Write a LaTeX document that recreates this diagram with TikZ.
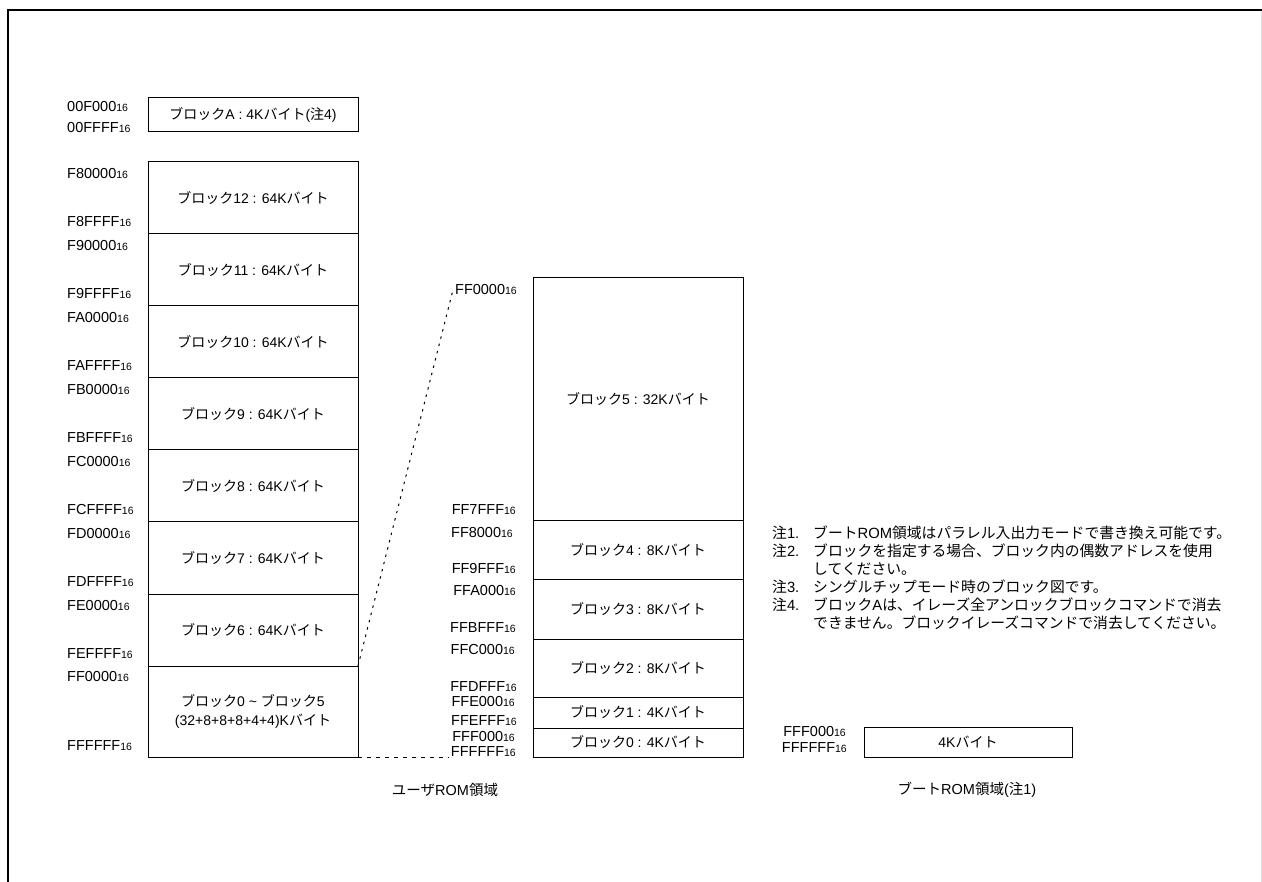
\documentclass[tikz,border=0pt]{standalone}
\usepackage{fontspec}
\setmainfont{Liberation Sans}
\newfontfamily\jp{Noto Sans CJK JP}
\usetikzlibrary{positioning}

\newcommand{\bk}{{\jp ブロック}}
\newcommand{\kb}{{\jp バイト}}
\newcommand{\hx}[1]{#1{\fontsize{10.5}{10.5}\selectfont 16}}

\tikzset{
    blk/.style={draw, line width=1pt, minimum width=210pt, inner sep=0pt, outer sep=0pt, font=\fontsize{14}{17}\selectfont},
    adr/.style={inner sep=2pt, font=\fontsize{14.5}{17}\selectfont},
    slantdash/.style={line width=1pt, dash pattern=on 2.5pt off 5pt},
    flatdash/.style={line width=1pt, dash pattern=on 4pt off 5pt},
}

\begin{document}
\begin{tikzpicture}[x=1pt, y=-1pt]
    \useasboundingbox (0,0) rectangle (1262,882);
    \draw[line width=2pt] (1262,10) -- (8,10) -- (8,882);
    \draw[black!12, line width=1pt] (1261,11) -- (1261,882);

    % user ROM
    \node[blk, minimum height=34pt] (ua) at (253,115) {\bk A : 4K\kb({\jp 注}4)};
    \node[blk, minimum height=72pt] (u12) at (253,198) {\bk12 : 64K\kb};
    \node[blk, minimum height=72pt, below=0pt of u12] (u11) {\bk11 : 64K\kb};
    \node[blk, minimum height=72pt, below=0pt of u11] (u10) {\bk10 : 64K\kb};
    \node[blk, minimum height=72pt, below=0pt of u10] (u9) {\bk9 : 64K\kb};
    \node[blk, minimum height=72pt, below=0pt of u9] (u8) {\bk8 : 64K\kb};
    \node[blk, minimum height=72pt, below=0pt of u8] (u7) {\bk7 : 64K\kb};
    \node[blk, minimum height=72pt, below=0pt of u7] (u6) {\bk6 : 64K\kb};
    \node[blk, minimum height=91pt, below=0pt of u6, align=center, font=\fontsize{14}{19}\selectfont] (u05)
        {\bk0 \textasciitilde{} \bk5\\(32+8+8+8+4+4)K\kb};

    \node[adr, anchor=west] (a00f000) at (65,107) {\hx{00F000}};
    \node[adr, anchor=west] (a00ffff) at (65,128) {\hx{00FFFF}};
    \node[adr, anchor=west] (af80000) at (65,174) {\hx{F80000}};
    \node[adr, anchor=west] (af8ffff) at (65,222) {\hx{F8FFFF}};
    \node[adr, anchor=west] (af90000) at (65,246) {\hx{F90000}};
    \node[adr, anchor=west] (af9ffff) at (65,294) {\hx{F9FFFF}};
    \node[adr, anchor=west] (afa0000) at (65,318) {\hx{FA0000}};
    \node[adr, anchor=west] (afaffff) at (65,366) {\hx{FAFFFF}};
    \node[adr, anchor=west] (afb0000) at (65,390) {\hx{FB0000}};
    \node[adr, anchor=west] (afbffff) at (65,438) {\hx{FBFFFF}};
    \node[adr, anchor=west] (afc0000) at (65,462) {\hx{FC0000}};
    \node[adr, anchor=west] (afcffff) at (65,510) {\hx{FCFFFF}};
    \node[adr, anchor=west] (afd0000) at (65,534) {\hx{FD0000}};
    \node[adr, anchor=west] (afdffff) at (65,582) {\hx{FDFFFF}};
    \node[adr, anchor=west] (afe0000) at (65,606) {\hx{FE0000}};
    \node[adr, anchor=west] (afeffff) at (65,654) {\hx{FEFFFF}};
    \node[adr, anchor=west] (aff0000) at (65,677) {\hx{FF0000}};
    \node[adr, anchor=west] (affffff) at (65,746) {\hx{FFFFFF}};

    % blocks 0-5
    \node[blk, minimum height=243pt] (m5) at (638,399.5) {\bk5 : 32K\kb};
    \node[blk, minimum height=58pt, below=0pt of m5] (m4) {\bk4 : 8K\kb};
    \node[blk, minimum height=60pt, below=0pt of m4] (m3) {\bk3 : 8K\kb};
    \node[blk, minimum height=58pt, below=0pt of m3] (m2) {\bk2 : 8K\kb};
    \node[blk, minimum height=31pt, below=0pt of m2] (m1) {\bk1 : 4K\kb};
    \node[blk, minimum height=29pt, below=0pt of m1] (m0) {\bk0 : 4K\kb};

    \node[adr, anchor=east] (mff0000) at (519,290) {\hx{FF0000}};
    \node[adr, anchor=east] (mff7fff) at (518,510) {\hx{FF7FFF}};
    \node[adr, anchor=east] (mff8000) at (515,533) {\hx{FF8000}};
    \node[adr, anchor=east] (mff9fff) at (518,569) {\hx{FF9FFF}};
    \node[adr, anchor=east] (mffa000) at (518,591) {\hx{FFA000}};
    \node[adr, anchor=east] (mffbfff) at (518,628) {\hx{FFBFFF}};
    \node[adr, anchor=east] (mffc000) at (517,650) {\hx{FFC000}};
    \node[adr, anchor=east] (mffdfff) at (519,687) {\hx{FFDFFF}};
    \node[adr, anchor=east] (mffe000) at (517,702) {\hx{FFE000}};
    \node[adr, anchor=east] (mffefff) at (519,721) {\hx{FFEFFF}};
    \node[adr, anchor=east] (mfff000) at (517,737) {\hx{FFF000}};
    \node[adr, anchor=east] (mffffff) at (518,752) {\hx{FFFFFF}};

    \draw[slantdash] (u05.north east) -- (mff0000.west);
    \draw[flatdash] (u05.south east) -- (u05.south east -| mffffff.west);

    % boot ROM
    \node[blk, minimum width=208pt, minimum height=30pt] (boot) at (968,742) {4K\kb};
    \node[adr, anchor=east] (bfff000) at (848,732) {\hx{FFF000}};
    \node[adr, anchor=east] (bffffff) at (849,748) {\hx{FFFFFF}};

    \node[adr] (capuser) at (445,790) {{\jp ユーザ}ROM{\jp 領域}};
    \node[adr] (capboot) at (967,790) {{\jp ブート}ROM{\jp 領域}({\jp 注}1)};

    % notes
    \node[anchor=north west, inner sep=0pt, font=\fontsize{14.8}{18}\selectfont] (notes) at (772,525.5) {%
        \begin{tabular}{@{}p{41pt}@{}l@{}}
            {\jp 注}1. & {\jp ブート}ROM{\jp 領域はパラレル入出力モードで書き換え可能です。}\\
            {\jp 注}2. & {\jp ブロックを指定する場合、ブロック内の偶数アドレスを使用}\\
                       & {\jp してください。}\\
            {\jp 注}3. & {\jp シングルチップモード時のブロック図です。}\\
            {\jp 注}4. & {\jp ブロック}A{\jp は、イレーズ全アンロックブロックコマンドで消去}\\
                       & {\jp できません。ブロックイレーズコマンドで消去してください。}
        \end{tabular}};
\end{tikzpicture}
\end{document}
